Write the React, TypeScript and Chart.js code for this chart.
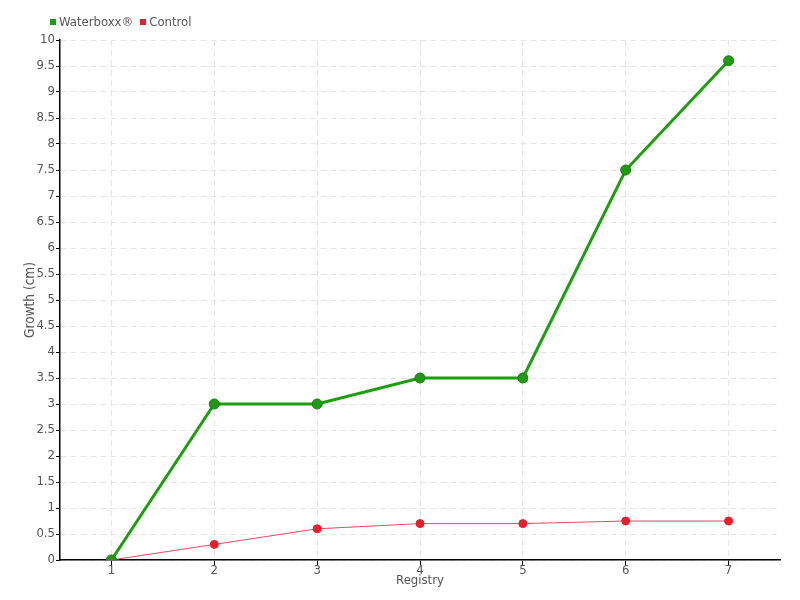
import React, { useEffect, useRef } from "react";
import { Chart, registerables } from "chart.js";

Chart.register(...registerables);

const categories = ["1", "2", "3", "4", "5", "6", "7"];
const waterboxx = [0, 3, 3, 3.5, 3.5, 7.5, 9.6];
const control = [0, 0.3, 0.6, 0.7, 0.7, 0.75, 0.75];
const seriesNames = ["Waterboxx®", "Control"];
const seriesColors = ["#1c9e0e", "#e81e2c"];

const FONT = "'DejaVu Sans Condensed', sans-serif";
const TEXT = "#555";

export default function App() {
  const ref = useRef<HTMLCanvasElement | null>(null);
  useEffect(() => {
    if (!ref.current) return;
    const chart = new Chart(ref.current, {
      type: "line",
      data: {
        labels: categories,
        datasets: [
          {
            label: seriesNames[0],
            data: waterboxx,
            borderColor: seriesColors[0],
            backgroundColor: seriesColors[0],
            borderWidth: 3,
            pointRadius: 5,
            pointBackgroundColor: "#1f9a12",
            pointBorderColor: "#177a0c",
            pointBorderWidth: 1,
            tension: 0,
          },
          {
            label: seriesNames[1],
            data: control,
            borderColor: "#f2475c",
            backgroundColor: seriesColors[1],
            borderWidth: 1,
            pointRadius: 4,
            pointBackgroundColor: seriesColors[1],
            pointBorderColor: seriesColors[1],
            pointBorderWidth: 1,
            tension: 0,
          },
        ],
      },
      options: {
        animation: false,
        responsive: false,
        layout: { padding: { left: 22, right: 20, top: 40, bottom: 0 } },
        plugins: {
          legend: { display: false },
          tooltip: { enabled: false },
        },
        scales: {
          x: {
            offset: true,
            afterFit: (s: any) => {
              s.height = 40;
            },
            grid: {
              offset: false,
              color: "#e4e4e4",
              tickColor: "#000",
              tickLength: 5,
            },
            border: { color: "#000", width: 1.5, dash: [6, 4] as any },
            ticks: { color: TEXT, font: { family: FONT, size: 13 }, padding: -2 },
            title: {
              display: true,
              text: "Registry",
              color: TEXT,
              font: { family: FONT, size: 13 },
              padding: { top: 0, bottom: 12 },
            },
          },
          y: {
            min: 0,
            max: 10,
            afterFit: (s: any) => {
              s.width = 38;
            },
            grid: { color: "#e4e4e4", tickColor: "#000", tickLength: 4 },
            border: { color: "#000", width: 1.5, dash: [6, 4] as any },
            ticks: {
              stepSize: 0.5,
              color: TEXT,
              font: { family: FONT, size: 13 },
              padding: 1,
              callback: (v: any) => String(Number(v)),
            },
            title: {
              display: true,
              text: "Growth (cm)",
              color: TEXT,
              font: { family: FONT, size: 13.5 },
              padding: 0,
            },
          },
        },
      },
    });
    return () => chart.destroy();
  }, []);
  return (
    <div style={{ position: "absolute", left: 0, top: 0, width: 800, height: 600, background: "#fff" }}>
      <canvas ref={ref} width={800} height={600} />
      <div
        style={{
          position: "absolute",
          left: 50,
          top: 13,
          display: "flex",
          alignItems: "center",
          fontFamily: FONT,
          fontSize: 13,
          color: TEXT,
          lineHeight: "18px",
          whiteSpace: "nowrap",
        }}
      >
        {seriesNames.map((n, i) => (
          <span key={n} style={{ display: "flex", alignItems: "center", marginRight: 7 }}>
            <span style={{ width: 6, height: 6, background: seriesColors[i], marginRight: 3, display: "inline-block" }} />
            {n}
          </span>
        ))}
      </div>
    </div>
  );
}
